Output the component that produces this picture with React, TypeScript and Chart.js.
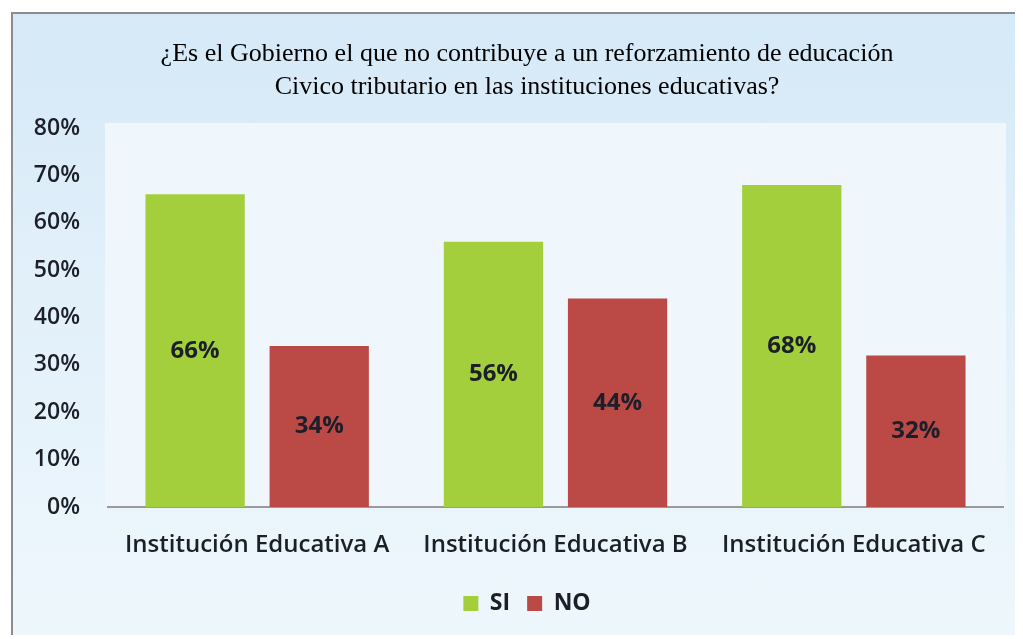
import React, { useEffect, useRef } from "react";
import { Chart, registerables } from "chart.js";

Chart.register(...registerables);

const titleLines = [
  "¿Es el Gobierno el que no contribuye a un reforzamiento de educación",
  "Civico tributario en las instituciones educativas?",
];
const categories = ["Institución Educativa A", "Institución Educativa B", "Institución Educativa C"];
const seriesNames = ["SI", "NO"];
const siValues = [66, 56, 68];
const noValues = [34, 44, 32];
const yTicksMax = 80;
const yTickStep = 10;

const plotBgPlugin = {
  id: "plotBg",
  beforeDraw(chart: any) {
    const { ctx, chartArea } = chart;
    ctx.save();
    ctx.fillStyle = "#f0f7fc";
    ctx.fillRect(chartArea.left - 3, chartArea.top - 5, chartArea.right - chartArea.left + 6, chartArea.bottom - chartArea.top + 5);
    ctx.restore();
  },
};

const valueLabelPlugin = {
  id: "valueLabels",
  afterDatasetsDraw(chart: any) {
    const { ctx } = chart;
    ctx.save();
    ctx.font = "bold 24px 'Open Sans'";
    ctx.fillStyle = "#1c1f2a";
    ctx.textAlign = "center";
    ctx.textBaseline = "middle";
    chart.data.datasets.forEach((ds: any, i: number) => {
      const meta = chart.getDatasetMeta(i);
      meta.data.forEach((bar: any, j: number) => {
        const p = bar.getProps(["x", "y", "base"], true);
        ctx.fillText(ds.data[j] + "%", p.x, (p.y + p.base) / 2);
      });
    });
    ctx.restore();
  },
};

export default function App() {
  const ref = useRef<HTMLCanvasElement>(null);
  useEffect(() => {
    if (!ref.current) return;
    const chart = new Chart(ref.current, {
      type: "bar",
      data: {
        labels: categories,
        datasets: [
          { label: seriesNames[0], data: siValues, backgroundColor: "#a2cf3b", borderWidth: 0 },
          { label: seriesNames[1], data: noValues, backgroundColor: "#bb4a46", borderWidth: 0 },
        ],
      },
      options: {
        responsive: false,
        animation: false,
        layout: { padding: { left: 0, right: 0, top: 0, bottom: 14 } },
        datasets: { bar: { categoryPercentage: 0.832, barPercentage: 0.8 } } as any,
        plugins: {
          title: {
            display: true,
            text: titleLines,
            font: { family: "'Liberation Serif', serif", size: 26, weight: "normal", lineHeight: 1.27 },
            color: "#000",
            padding: { top: 26, bottom: 24 },
          },
          legend: {
            position: "bottom",
            labels: {
              font: { family: "'Open Sans'", size: 23, weight: "bold" },
              color: "#1c1f2a",
              boxWidth: 15,
              boxHeight: 15,
              padding: 17,
            },
          },
          tooltip: { enabled: false },
        },
        scales: {
          x: {
            grid: { display: false, drawTicks: false },
            border: { display: true, color: "#9a9a9a", width: 2 },
            ticks: { font: { family: "'Open Sans'", size: 24, weight: "600" }, color: "#1c1f2a", padding: 24 },
            afterFit(scale: any) { scale.height = 68; },
          },
          y: {
            min: 0,
            max: yTicksMax,
            grid: { display: false, drawTicks: false },
            border: { display: false },
            ticks: {
              stepSize: yTickStep,
              callback: (v: any) => v + "%",
              font: { family: "'Open Sans'", size: 23, weight: "600" },
              color: "#1c1f2a",
              padding: 28,
            },
            afterFit(scale: any) { scale.width = 97; },
          },
          yRight: {
            position: "right",
            min: 0,
            max: yTicksMax,
            grid: { display: false, drawTicks: false },
            border: { display: false },
            ticks: { display: false },
            afterFit(scale: any) { scale.width = 40; },
          },
        },
      },
      plugins: [plotBgPlugin, valueLabelPlugin],
    });
    return () => chart.destroy();
  }, []);

  return (
    <div
      style={{
        position: "relative",
        left: 3,
        top: 4,
        width: 1012,
        height: 627,
        overflow: "hidden",
        borderLeft: "2px solid #8c8c8c",
        borderTop: "2px solid #8c8c8c",
        boxSizing: "border-box",
        background: "linear-gradient(to bottom, #d5e9f7 0%, #e2f0fa 45%, #eef7fc 100%)",
      }}
    >
      <canvas ref={ref} width={1032} height={627} style={{ display: "block", marginLeft: -2, marginTop: -2 }} />
    </div>
  );
}
